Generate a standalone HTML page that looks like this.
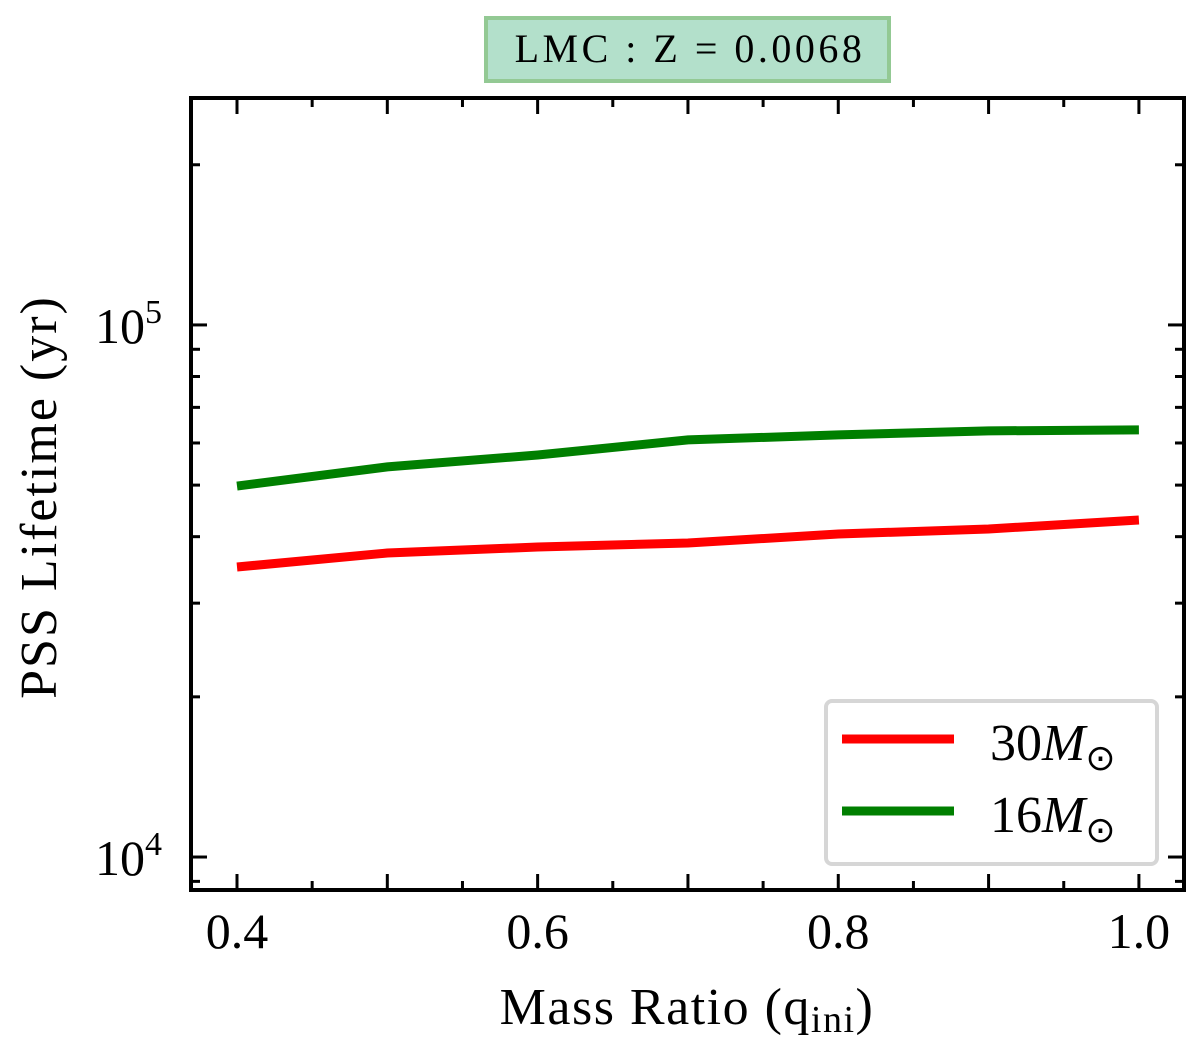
<!DOCTYPE html>
<html><head><meta charset="utf-8"><style>
body{margin:0;background:#fff}
svg{display:block;font-family:"Liberation Serif",serif}
</style></head><body>
<svg id="c" width="1200" height="1055" xmlns="http://www.w3.org/2000/svg"></svg>
<script>
const qValues=[0.4,0.5,0.6,0.7,0.8,0.9,1.0];
const m30Lifetime=[35080,37270,38250,38920,40460,41350,43000];
const m16Lifetime=[49800,54100,56950,60800,62130,63230,63490];
const xTickLabels=["0.4","0.6","0.8","1.0"];
const xTickValues=[0.4,0.6,0.8,1.0];

const NS="http://www.w3.org/2000/svg";
const svg=document.getElementById('c');
const L=191,R=1184,T=98,B=890;
const xMin=0.3694,xMax=1.03;
const yMin=Math.log10(8670),yMax=Math.log10(267000);
const X=v=>L+(v-xMin)/(xMax-xMin)*(R-L);
const Y=v=>B-(Math.log10(v)-yMin)/(yMax-yMin)*(B-T);
function el(t,a,p){const e=document.createElementNS(NS,t);for(const k in a)e.setAttribute(k,a[k]);(p||svg).appendChild(e);return e;}

const tb=el('g',{});


el('rect',{x:486,y:18,width:403,height:63,fill:'#b3e0cb',stroke:'#93c994','stroke-width':4},tb);
const tt=el('text',{x:690,y:62,'text-anchor':'middle','font-size':40,'letter-spacing':3.5,fill:'#000'},tb);
tt.textContent='LMC : Z = 0.0068';



const ticks=el('g',{stroke:'#000','stroke-width':3});


for(let i=0;i<=13;i++){const v=0.4+i*0.05;if(v>xMax)break;const x=X(v);const r=Math.round(v*100)%10;const major=r===0;const len=major?16:9;
el('line',{x1:x,y1:B,x2:x,y2:B-len},ticks);el('line',{x1:x,y1:T,x2:x,y2:T+len},ticks);}
for(let d=3;d<=5;d++)for(let m=1;m<=9;m++){const v=m*Math.pow(10,d);if(v<8670||v>267000)continue;const y=Y(v);const len=m===1?16:9;
el('line',{x1:L,y1:y,x2:L+len,y2:y},ticks);el('line',{x1:R,y1:y,x2:R-len,y2:y},ticks);}

xTickValues.forEach((v,i)=>{const t=el('text',{x:X(v),y:948,'text-anchor':'middle','font-size':50});t.textContent=xTickLabels[i];
});
[[1e5,'5'],[1e4,'4']].forEach(([v,e])=>{const t=el('text',{x:162,y:Y(v)+18,'text-anchor':'end','font-size':50});t.innerHTML='10<tspan dy="-20" font-size="34">'+e+'</tspan>';
});

const xt=el('text',{x:687,y:1024,'text-anchor':'middle','font-size':52,'letter-spacing':1.5});xt.innerHTML='Mass Ratio (q<tspan dy="8" font-size="38">ini</tspan><tspan dy="-8">)</tspan>';

const yt=el('text',{x:0,y:0,'text-anchor':'middle','font-size':52,'letter-spacing':2,transform:'translate(56,497) rotate(-90)'});yt.textContent='PSS Lifetime (yr)';


function line(vals,color,name){const p=el('polyline',{points:qValues.map((q,i)=>X(q)+','+Y(vals[i])).join(' '),fill:'none',stroke:color,'stroke-width':9});
}
line(m30Lifetime,'#ff0000','line-30msun');
line(m16Lifetime,'#007f00','line-16msun');

const fr=el('rect',{x:L,y:T,width:R-L,height:B-T,fill:'none',stroke:'#000','stroke-width':4});


const lg=el('g',{});

el('rect',{x:826,y:701,width:331,height:163,rx:6,fill:'#fff',stroke:'#d6d6d6','stroke-width':4},lg);
[['#ff0000','30',760],['#007f00','16',832]].forEach(([c,n,y])=>{
const g=el('g',{},lg);
el('line',{x1:842,y1:y-21,x2:954,y2:y-21,stroke:c,'stroke-width':9},g);
const t=el('text',{x:990,y:y,'font-size':52},g);t.innerHTML=n+'<tspan font-style="italic">M</tspan><tspan dy="10" font-size="36">⊙</tspan>';});
</script>
</body></html>
